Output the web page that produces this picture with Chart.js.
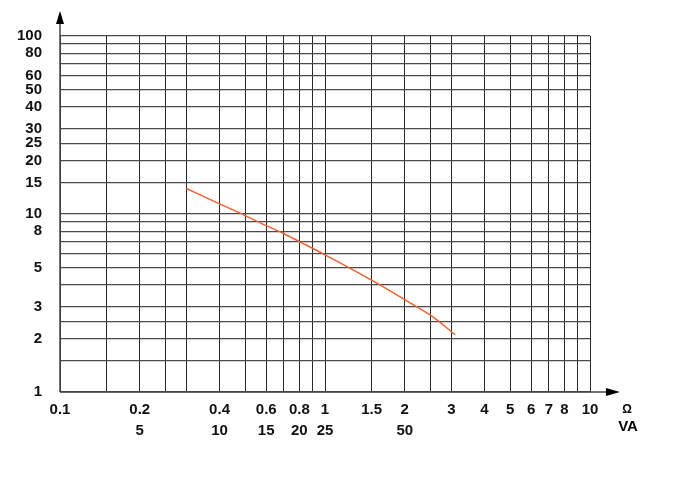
<!DOCTYPE html>
<html>
<head>
<meta charset="utf-8">
<script src="https://cdn.jsdelivr.net/npm/chart.js"></script>
<style>
  body { margin: 0; background: #fff; }
</style>
</head>
<body>
<canvas id="chart" width="696" height="485"></canvas>
<script>
// curve (x in ohm, y on the left scale)
const ohm = [0.3, 0.4, 0.5, 0.6, 0.7, 0.8, 1, 1.5, 2, 2.5, 3.1];
const vals = [13.9, 11.4, 9.8, 8.6, 7.75, 7.0, 5.9, 4.25, 3.3, 2.7, 2.1];

// grid lines and tick labels
const xGrid = [0.1, 0.15, 0.2, 0.25, 0.3, 0.4, 0.5, 0.6, 0.7, 0.8, 0.9, 1, 1.5, 2, 2.5, 3, 4, 5, 6, 7, 8, 9, 10];
const xLabels = { 0.1: "0.1", 0.2: "0.2", 0.4: "0.4", 0.6: "0.6", 0.8: "0.8", 1: "1", 1.5: "1.5", 2: "2", 3: "3", 4: "4", 5: "5", 6: "6", 7: "7", 8: "8", 10: "10" };
const vaLabels = { 0.2: "5", 0.4: "10", 0.6: "15", 0.8: "20", 1: "25", 2: "50" };
const yGrid = [1, 1.5, 2, 2.5, 3, 4, 5, 6, 7, 8, 9, 10, 15, 20, 25, 30, 40, 50, 60, 70, 80, 90, 100];
const yLabels = [1, 2, 3, 5, 8, 10, 15, 20, 25, 30, 40, 50, 60, 80, 100];

const points = ohm.map((x, i) => ({ x: x, y: vals[i] }));

// axis arrows and unit labels
const arrows = {
  id: "arrows",
  afterDraw(chart) {
    const ctx = chart.ctx;
    const a = chart.chartArea;
    ctx.save();
    ctx.strokeStyle = "#444";
    ctx.fillStyle = "#000";
    ctx.lineWidth = 1.5;
    ctx.beginPath();
    ctx.moveTo(a.left, a.bottom);
    ctx.lineTo(a.left, 20);
    ctx.moveTo(a.left, a.bottom);
    ctx.lineTo(a.right + 20, a.bottom);
    ctx.stroke();
    // y arrow
    ctx.beginPath();
    ctx.moveTo(a.left, 11);
    ctx.lineTo(a.left - 4, 24);
    ctx.lineTo(a.left + 4, 24);
    ctx.closePath();
    ctx.fill();
    // x arrow
    ctx.beginPath();
    ctx.moveTo(a.right + 30, a.bottom);
    ctx.lineTo(a.right + 16, a.bottom - 4);
    ctx.lineTo(a.right + 16, a.bottom + 4);
    ctx.closePath();
    ctx.fill();
    ctx.textAlign = "center";
    ctx.textBaseline = "middle";
    ctx.font = "bold 12px 'Liberation Sans', Arial, sans-serif";
    ctx.fillText("Ω", a.right + 37, a.bottom + 18);
    ctx.font = "bold 15px 'Liberation Sans', Arial, sans-serif";
    ctx.fillText("VA", a.right + 38, a.bottom + 35);
    ctx.restore();
  }
};

new Chart(document.getElementById("chart"), {
  type: "line",
  data: {
    datasets: [{
      data: points,
      borderColor: "#f2602e",
      borderWidth: 1.5,
      pointRadius: 0,
      cubicInterpolationMode: "monotone",
      fill: false
    }]
  },
  options: {
    responsive: false,
    animation: false,
    layout: { padding: { top: 36, right: 106, left: 0, bottom: 0 } },
    plugins: { legend: { display: false }, tooltip: { enabled: false } },
    scales: {
      x: {
        type: "logarithmic",
        min: 0.1,
        max: 10,
        afterBuildTicks: (s) => { s.ticks = xGrid.map(v => ({ value: v })); },
        afterFit: (s) => { s.height = 93; },
        grid: { color: "#2a2a2a", lineWidth: 1, drawTicks: false },
        border: { display: false },
        ticks: {
          autoSkip: false,
          maxRotation: 0,
          padding: 7,
          color: "#111",
          font: { family: "'Liberation Sans', Arial, sans-serif", size: 15, weight: "bold", lineHeight: 1.43 },
          callback: (v) => {
            const t = xLabels[v];
            if (!t) return "";
            return vaLabels[v] ? [t, vaLabels[v]] : t;
          }
        }
      },
      y: {
        type: "logarithmic",
        min: 1,
        max: 100,
        afterBuildTicks: (s) => { s.ticks = yGrid.map(v => ({ value: v })); },
        afterFit: (s) => { s.width = 60; },
        grid: { color: "#4a4a4a", lineWidth: 1.3, drawTicks: false },
        border: { display: false },
        ticks: {
          autoSkip: false,
          padding: 18,
          color: "#111",
          font: { family: "'Liberation Sans', Arial, sans-serif", size: 15, weight: "bold" },
          callback: (v) => yLabels.includes(v) ? String(v) : ""
        }
      }
    }
  },
  plugins: [arrows]
});
</script>
</body>
</html>
